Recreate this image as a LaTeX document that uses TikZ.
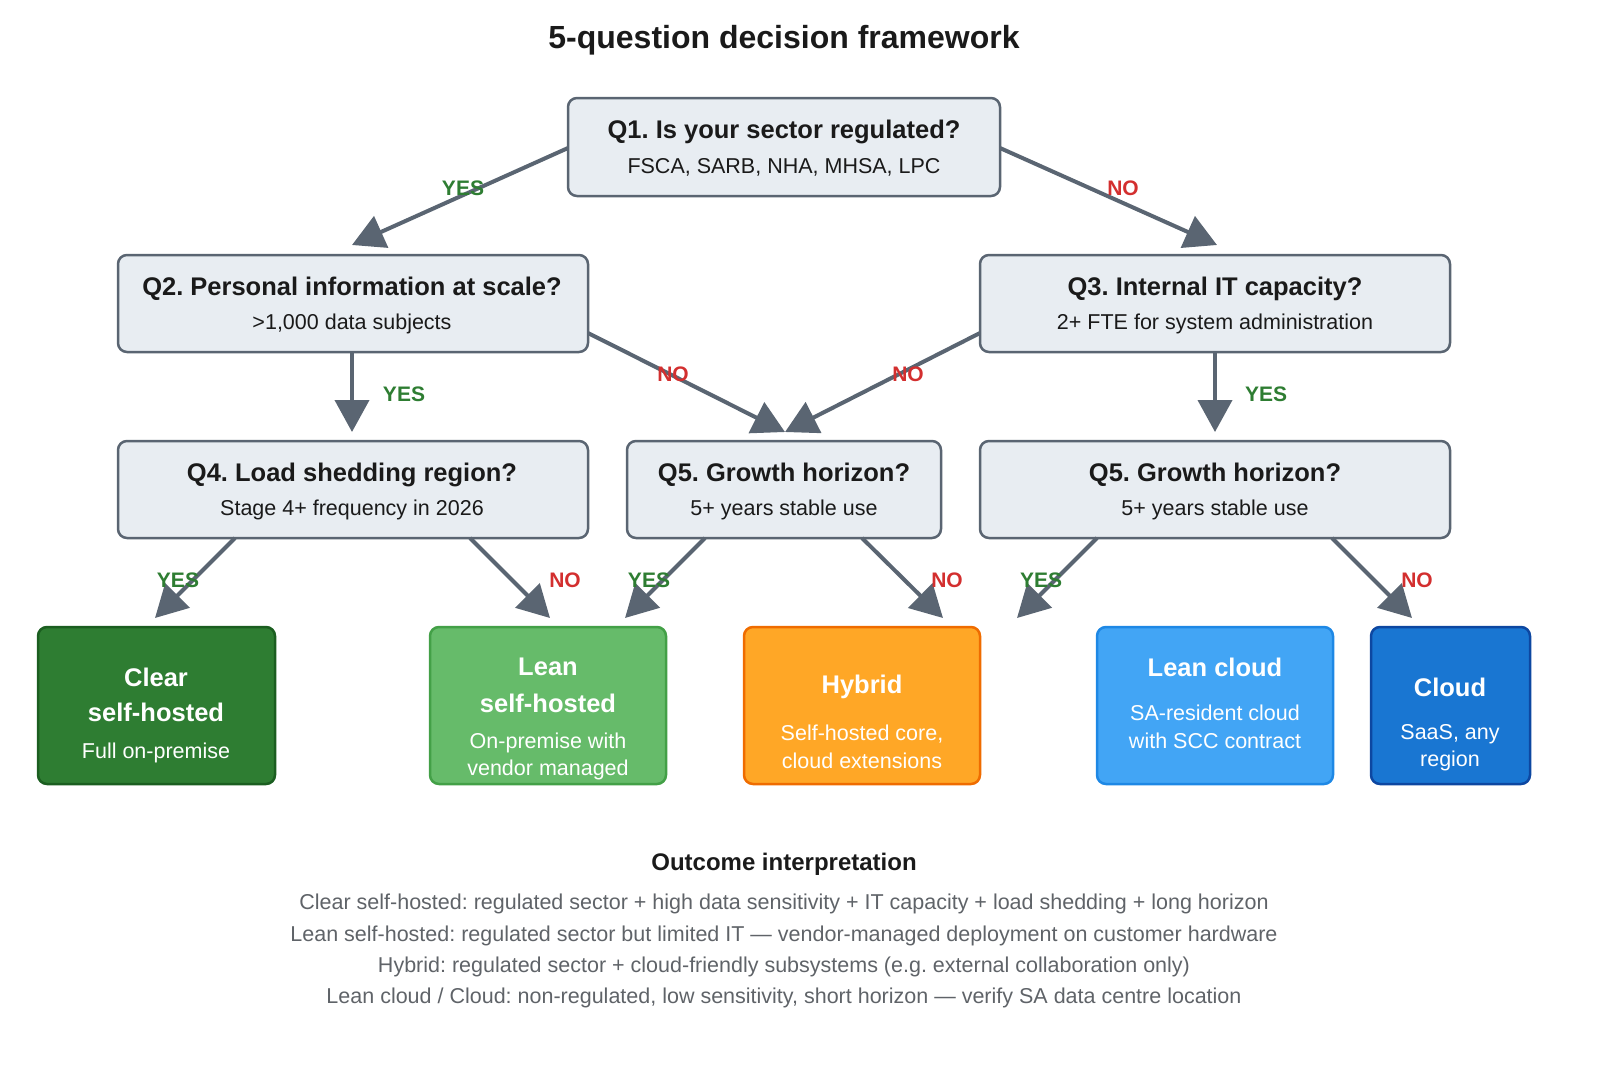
\documentclass[tikz,border=0pt]{standalone}
\usepackage{fontspec}
\setmainfont{Liberation Sans}
\usetikzlibrary{arrows.meta}
\frenchspacing
\definecolor{qfill}{HTML}{E8EDF2}
\definecolor{qdraw}{HTML}{5A6572}
\definecolor{yesc}{HTML}{2E7D32}
\definecolor{noc}{HTML}{D32F2F}
\definecolor{txt}{HTML}{1A1A1A}
\definecolor{grayt}{HTML}{5F6368}
\definecolor{c1f}{HTML}{2E7D32}\definecolor{c1d}{HTML}{1B5E20}
\definecolor{c2f}{HTML}{66BB6A}\definecolor{c2d}{HTML}{43A047}
\definecolor{c3f}{HTML}{FFA726}\definecolor{c3d}{HTML}{EF6C00}
\definecolor{c4f}{HTML}{42A5F5}\definecolor{c4d}{HTML}{1E88E5}
\definecolor{c5f}{HTML}{1976D2}\definecolor{c5d}{HTML}{0D47A1}
\tikzset{
 qbox/.style={draw=qdraw,fill=qfill,line width=2.5pt,rounded corners=9pt},
 obox/.style={line width=2.5pt,rounded corners=9pt},
 conn/.style={draw=qdraw,line width=4pt,-{Triangle[length=32pt,width=34pt]}},
 yl/.style={text=yesc,font=\fontsize{21}{23}\selectfont\bfseries},
 nl/.style={text=noc,font=\fontsize{21}{23}\selectfont\bfseries},
 qt/.style={text=txt,font=\fontsize{25.5}{28}\selectfont\bfseries},
 qs/.style={text=txt,font=\fontsize{21.5}{24}\selectfont},
 ot/.style={text=white,font=\fontsize{25.5}{28}\selectfont\bfseries},
 os/.style={text=white,font=\fontsize{21.5}{24}\selectfont},
 bl/.style={text=grayt,font=\fontsize{21.5}{24}\selectfont},
}
\begin{document}
\begin{tikzpicture}[x=1pt,y=-1pt]
\useasboundingbox (0,0) rectangle (1600,1080);
\node[text=txt,font=\fontsize{32}{36}\selectfont\bfseries] (title) at (784,40) {5-question decision framework};
% question boxes
\draw[qbox] (568,98) rectangle (1000,196);
\node[qt] (q1t) at (784,132) {Q1. Is your sector regulated?};
\node[qs] (q1s) at (784,167) {FSCA, SARB, NHA, MHSA, LPC};
\draw[qbox] (118,255) rectangle (588,352);
\node[qt] (q2t) at (352,289) {Q2. Personal information at scale?};
\node[qs] (q2s) at (352,324) {>1,000 data subjects};
\draw[qbox] (980,255) rectangle (1450,352);
\node[qt] (q3t) at (1215,289) {Q3. Internal IT capacity?};
\node[qs] (q3s) at (1215,324) {2+ FTE for system administration};
\draw[qbox] (118,441) rectangle (588,538);
\node[qt] (q4t) at (352,475) {Q4. Load shedding region?};
\node[qs] (q4s) at (352,510) {Stage 4+ frequency in 2026};
\draw[qbox] (627,441) rectangle (941,538);
\node[qt] (q5at) at (784,475) {Q5. Growth horizon?};
\node[qs] (q5as) at (784,510) {5+ years stable use};
\draw[qbox] (980,441) rectangle (1450,538);
\node[qt] (q5bt) at (1215,475) {Q5. Growth horizon?};
\node[qs] (q5bs) at (1215,510) {5+ years stable use};
% outcome boxes
\draw[obox,fill=c1f,draw=c1d] (38,627) rectangle (275,784);
\node[ot] (o1a) at (156,677) {Clear};
\node[ot] (o1b) at (156,712) {self-hosted};
\node[os] (o1c) at (156,753) {Full on-premise};
\draw[obox,fill=c2f,draw=c2d] (430,627) rectangle (666,784);
\node[ot] (o2a) at (548,667) {Lean};
\node[ot] (o2b) at (548,703) {self-hosted};
\node[os] (o2c) at (548,743) {On-premise with};
\node[os] (o2d) at (548,770) {vendor managed};
\draw[obox,fill=c3f,draw=c3d] (744,627) rectangle (980,784);
\node[ot] (o3a) at (862,687) {Hybrid};
\node[os] (o3b) at (862,734) {Self-hosted core,};
\node[os] (o3c) at (862,761) {cloud extensions};
\draw[obox,fill=c4f,draw=c4d] (1097,627) rectangle (1333,784);
\node[ot] (o4a) at (1215,667) {Lean cloud};
\node[os] (o4b) at (1215,713) {SA-resident cloud};
\node[os] (o4c) at (1215,741) {with SCC contract};
\draw[obox,fill=c5f,draw=c5d] (1371,627) rectangle (1530,784);
\node[ot] (o5a) at (1450,687) {Cloud};
\node[os] (o5b) at (1450,734) {SaaS, any};
\node[os] (o5c) at (1450,761) {region};
% connector coordinates
\coordinate (a1s) at (568,148); \coordinate (a1e) at (352,245);
\coordinate (a2s) at (1000,148); \coordinate (a2e) at (1217,245);
\coordinate (a3s) at (352,352); \coordinate (a3e) at (352,432);
\coordinate (a4s) at (588,333); \coordinate (a4e) at (785,432);
\coordinate (a5s) at (980,333); \coordinate (a5e) at (785,432);
\coordinate (a6s) at (1215,352); \coordinate (a6e) at (1215,432);
\coordinate (a7s) at (235,538); \coordinate (a7e) at (155,618);
\coordinate (a8s) at (470,538); \coordinate (a8e) at (550,618);
\coordinate (a9s) at (705,538); \coordinate (a9e) at (625,618);
\coordinate (a10s) at (862,538); \coordinate (a10e) at (943,618);
\coordinate (a11s) at (1097,538); \coordinate (a11e) at (1017,618);
\coordinate (a12s) at (1332,538); \coordinate (a12e) at (1412,618);
\foreach \i in {1,...,12} \draw[conn] (a\i s) -- (a\i e);
% labels
\node[yl] (l1) at (463,188) {YES};
\node[nl] (l2) at (1123,188) {NO};
\node[yl] (l3) at (404,394) {YES};
\node[nl] (l4) at (673,374) {NO};
\node[nl] (l5) at (908,374) {NO};
\node[yl] (l6) at (1266,394) {YES};
\node[yl] (l7) at (178,580) {YES};
\node[nl] (l8) at (565,580) {NO};
\node[yl] (l9) at (649,580) {YES};
\node[nl] (l10) at (947,580) {NO};
\node[yl] (l11) at (1041,580) {YES};
\node[nl] (l12) at (1417,580) {NO};
% bottom
\node[text=txt,font=\fontsize{24}{27}\selectfont\bfseries] (oi) at (784,864) {Outcome interpretation};
\node[bl] (b1) at (784,904) {Clear self-hosted: regulated sector + high data sensitivity + IT capacity + load shedding + long horizon};
\node[bl] (b2) at (784,936) {Lean self-hosted: regulated sector but limited IT — vendor-managed deployment on customer hardware};
\node[bl] (b3) at (784,967) {Hybrid: regulated sector + cloud-friendly subsystems (e.g. external collaboration only)};
\node[bl] (b4) at (784,998) {Lean cloud / Cloud: non-regulated, low sensitivity, short horizon — verify SA data centre location};
\end{tikzpicture}
\end{document}
